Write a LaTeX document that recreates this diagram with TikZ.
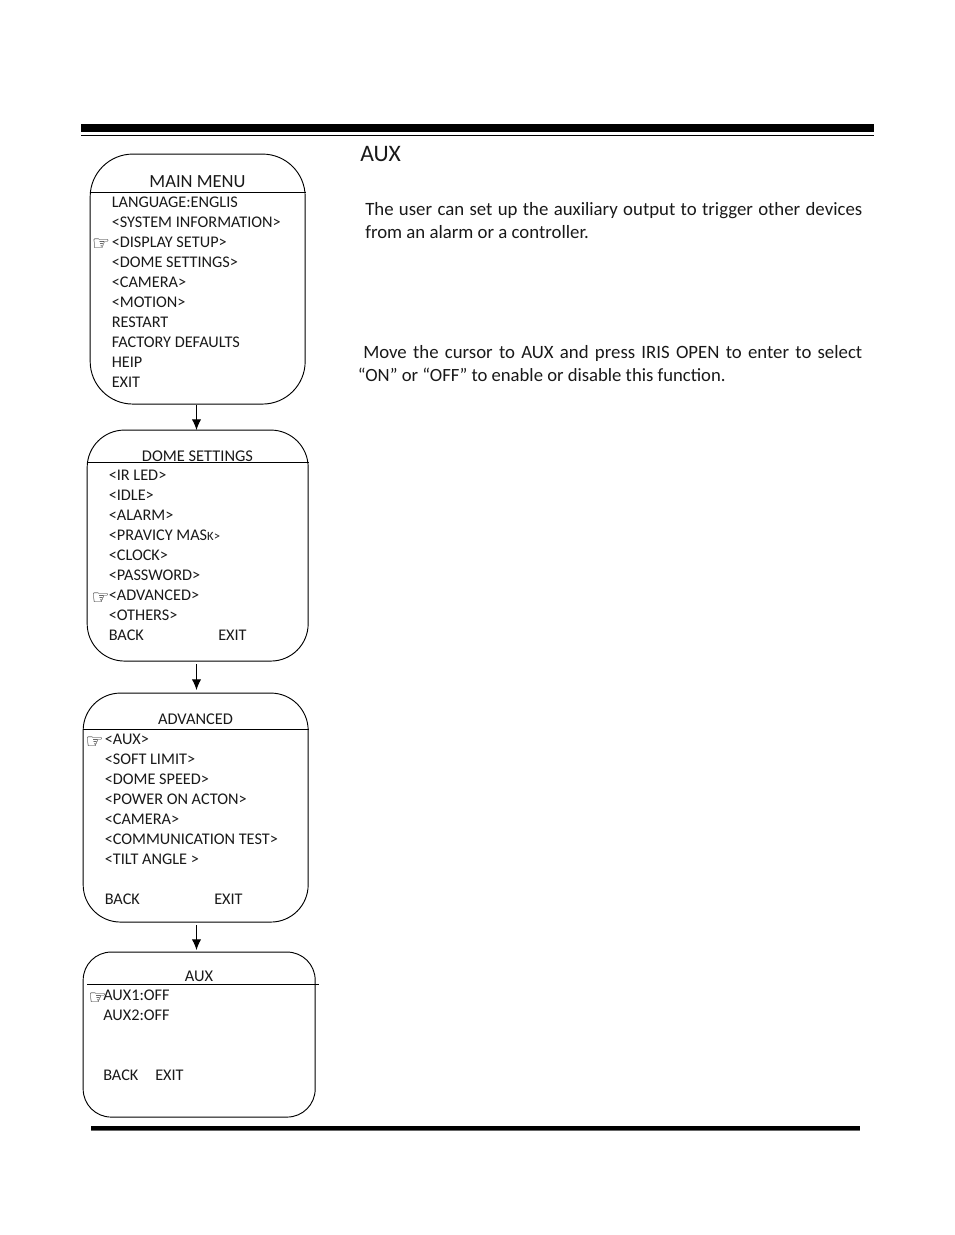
\documentclass[tikz,border=0pt]{standalone}
\usepackage{fontspec}
\setmainfont{Carlito}
\newfontfamily\handfont{DejaVu Sans}
\usetikzlibrary{arrows.meta}
\newcommand{\handmark}{{\handfont\fontsize{15}{15}\selectfont ☞}}
\tikzset{
 x=0.75pt,y=-0.75pt,
 menubox/.style={draw=black,line width=0.7pt,fill=none,inner sep=0pt,anchor=north west},
 itemtext/.style={anchor=base west,inner sep=0pt,yshift=-0.9pt,font=\fontsize{12.2}{14}\selectfont,text=black!90},
 titletext/.style={anchor=base,inner sep=0pt,yshift=-0.9pt,font=\fontsize{12.3}{14}\selectfont,text=black!90},
 bodytext/.style={anchor=base west,inner sep=0pt,yshift=-1.2pt,font=\fontsize{14.1}{16}\selectfont,text=black!90},
 handnode/.style={anchor=center,inner sep=0pt,yshift=-1pt},
 headrule/.style={line width=0.7pt},
 flow/.style={line width=0.7pt,-{Latex[length=8pt,width=7pt]}},
}
\begin{document}
\begin{tikzpicture}
\useasboundingbox (0,0) rectangle (954,1235);
% page rules
\fill[black] (81,124) rectangle (874,132);
\fill[black] (81,134.5) rectangle (874,136);
\fill[black!60] (91,1125.5) rectangle (860,1130.5);
\fill[black] (91,1126) rectangle (860,1129.5);
% boxes
\node[menubox,rounded corners=32pt,minimum width=161.25pt,minimum height=187.5pt] (mainbox) at (89.7,153.6) {};
\node[menubox,rounded corners=28pt,minimum width=165.75pt,minimum height=173.25pt] (domebox) at (86.7,429.6) {};
\node[menubox,rounded corners=28pt,minimum width=168.75pt,minimum height=171.75pt] (advbox) at (82.7,692.6) {};
\node[menubox,rounded corners=21pt,minimum width=174pt,minimum height=123.75pt] (auxbox) at (82.7,951.6) {};
% header lines
\draw[headrule] (mainbox.west |- 0,192) -- (mainbox.east |- 0,192);
\draw[headrule] (domebox.west |- 0,462.5) -- (domebox.east |- 0,462.5);
\draw[headrule] (advbox.west |- 0,729.5) -- (advbox.east |- 0,729.5);
\draw[headrule] (87,984.5) -- (319,984.5);
% connectors
\coordinate (a1) at (196.5,405);
\coordinate (a2) at (196.5,430);
\coordinate (b1) at (196.5,664);
\coordinate (b2) at (196.5,690);
\coordinate (c1) at (196.5,925);
\coordinate (c2) at (196.5,950);
\draw[flow] (a1) -- (a2);
\draw[flow] (b1) -- (b2);
\draw[flow] (c1) -- (c2);
% main menu
\node[titletext,font=\fontsize{13.9}{16}\selectfont] (mt) at (197.5,186) {MAIN MENU};
\node[itemtext] (m1) at (111.5,206.5) {LANGUAGE:ENGLIS};
\node[itemtext] (m2) at (111.5,226.5) {<SYSTEM INFORMATION>};
\node[itemtext] (m3) at (111.5,246.5) {<DISPLAY SETUP>};
\node[itemtext] (m4) at (111.5,266.5) {<DOME SETTINGS>};
\node[itemtext] (m5) at (111.5,286.5) {<CAMERA>};
\node[itemtext] (m6) at (111.5,306.5) {<MOTION>};
\node[itemtext] (m7) at (111.5,326.5) {RESTART};
\node[itemtext] (m8) at (111.5,346.5) {FACTORY DEFAULTS};
\node[itemtext] (m9) at (111.5,366.5) {HEIP};
\node[itemtext] (m10) at (111.5,386.5) {EXIT};
\node[handnode] (mh) at (101,243) {\handmark};
% dome settings
\node[titletext] (dt) at (197.5,460.5) {DOME SETTINGS};
\node[itemtext] (d1) at (108.5,479.5) {<IR LED>};
\node[itemtext] (d2) at (108.5,499.5) {<IDLE>};
\node[itemtext] (d3) at (108.5,519.5) {<ALARM>};
\node[itemtext] (d4) at (108.5,539.5) {<PRAVICY MAS{\fontsize{9.5}{10}\selectfont K>}};
\node[itemtext] (d5) at (108.5,559.5) {<CLOCK>};
\node[itemtext] (d6) at (108.5,579.5) {<PASSWORD>};
\node[itemtext] (d7) at (108.5,599.5) {<ADVANCED>};
\node[itemtext] (d8) at (108.5,619.5) {<OTHERS>};
\node[itemtext] (d9) at (108.5,639.5) {BACK};
\node[itemtext] (d10) at (218,639.5) {EXIT};
\node[handnode] (dh) at (100.5,597) {\handmark};
% advanced
\node[titletext] (at) at (195.5,723.5) {ADVANCED};
\node[itemtext] (v1) at (104.5,743.5) {<AUX>};
\node[itemtext] (v2) at (104.5,763.5) {<SOFT LIMIT>};
\node[itemtext] (v3) at (104.5,783.5) {<DOME SPEED>};
\node[itemtext] (v4) at (104.5,803.5) {<POWER ON ACTON>};
\node[itemtext] (v5) at (104.5,823.5) {<CAMERA>};
\node[itemtext] (v6) at (104.5,843.5) {<COMMUNICATION TEST>};
\node[itemtext] (v7) at (104.5,863.5) {<TILT ANGLE >};
\node[itemtext] (v8) at (104.5,903.5) {BACK};
\node[itemtext] (v9) at (214,903.5) {EXIT};
\node[handnode] (vh) at (94.5,741) {\handmark};
% aux
\node[titletext] (xt) at (199,980.5) {AUX};
\node[itemtext] (x1) at (103,999.5) {AUX1:OFF};
\node[itemtext] (x2) at (103,1019.5) {AUX2:OFF};
\node[itemtext] (x3) at (103,1079.5) {BACK};
\node[itemtext] (x4) at (155,1079.5) {EXIT};
\node[handnode] (xh) at (97.5,997) {\handmark};
% right-hand text
\node[anchor=base west,inner sep=0pt,yshift=-0.9pt,font=\fontsize{17.7}{20}\selectfont,text=black!90] (auxhead) at (360,160) {AUX};
\node[bodytext] (p1) at (365,213.5) {\makebox[372.75pt][s]{The user can set up the auxiliary output to trigger other devices}};
\node[bodytext] (p2) at (365,236.5) {from an alarm or a controller.};
\node[bodytext] (p3) at (363,356.5) {\makebox[374.25pt][s]{Move the cursor to AUX and press IRIS OPEN to enter to select}};
\node[bodytext,font=\fontsize{14}{16}\selectfont] (p4) at (357.5,379.5) {“ON” or “OFF” to enable or disable this function.};
\end{tikzpicture}
\end{document}
